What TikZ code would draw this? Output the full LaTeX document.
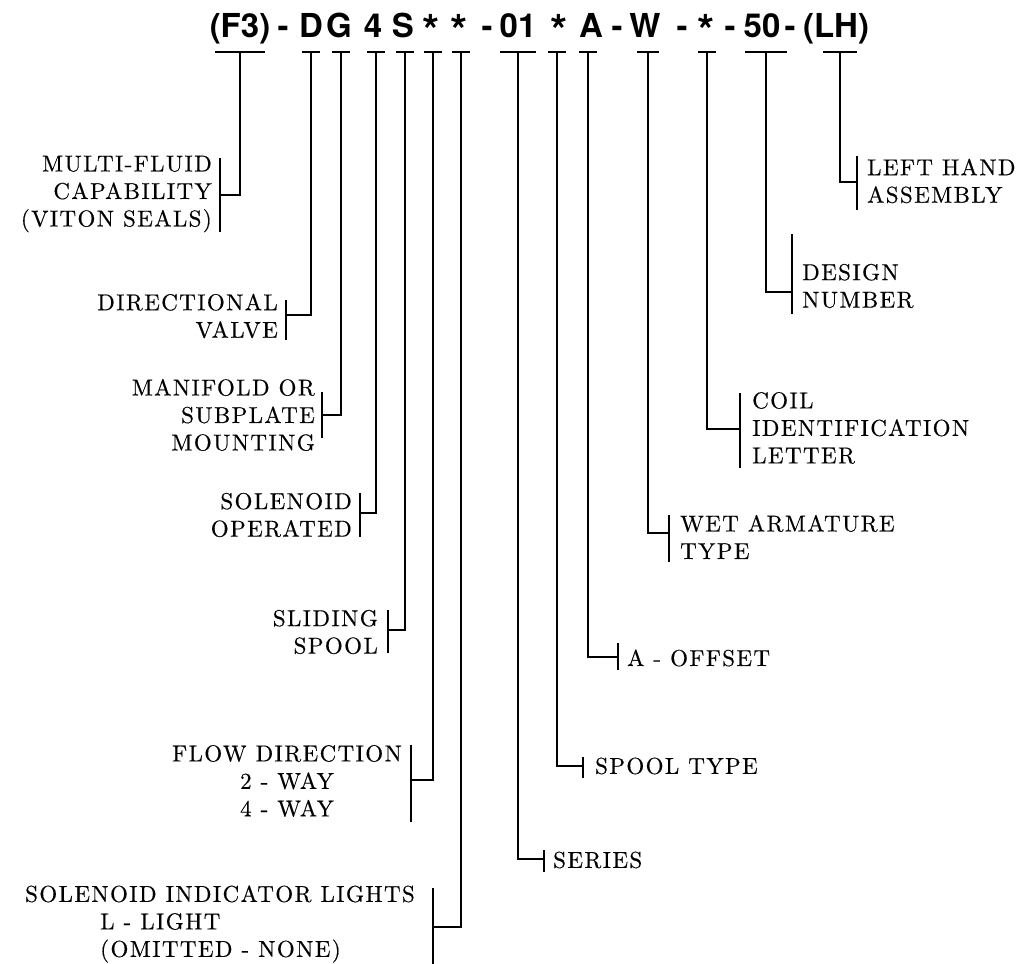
\documentclass[tikz,border=0pt]{standalone}
\usepackage{fontspec}
\newfontfamily\titlefont{TeX Gyre Heros}
\newfontfamily\labfont{lmroman10-regular.otf}[LetterSpace=6,FakeBold=0.4]
% #1 name, #2 stem x, #3 half width of T bar, #4 horizontal y, #5 bracket x, #6 bracket top, #7 bracket bottom
\newcommand\brk[7]{%
  \coordinate (tl#1) at ({#2-#3},52);
  \coordinate (tr#1) at ({#2+#3},52);
  \coordinate (s#1) at (#2,52);
  \coordinate (h#1) at (#5,#4);
  \coordinate (bt#1) at (#5,#6);
  \coordinate (bb#1) at (#5,#7);
  \draw[ln] (tl#1) -- (tr#1);
  \draw[ln] (s#1) |- (h#1);
  \draw[ln] (bt#1) -- (bb#1);
}
\begin{document}
\begin{tikzpicture}[x=1pt,y=-1pt,
  ttl/.style={font=\titlefont\bfseries\fontsize{33}{33}\selectfont, inner sep=0pt, anchor=base},
  star/.style={font=\titlefont\bfseries\fontsize{44}{44}\selectfont, inner sep=0pt, anchor=base},
  lab/.style={font=\labfont\fontsize{23}{27.5}\selectfont, inner sep=0pt},
  ln/.style={line width=1.3pt, line cap=butt, line join=miter}]
\useasboundingbox (0,0) rectangle (1023,964);
% title characters
\node[ttl] (cF3) at (240,37) {(F3)};
\node[ttl] (d1) at (283,37) {-};
\node[ttl] (cD) at (311,37) {D};
\node[ttl] (cG) at (339,37) {G};
\node[ttl] (c4) at (373,37) {4};
\node[ttl] (cS) at (403,37) {S};
\node[star] (ca) at (431,46) {*};
\node[star] (cb) at (459,46) {*};
\node[ttl] (d2) at (487,37) {-};
\node[ttl] (c01) at (518,37) {01};
\node[star] (cc) at (559,46) {*};
\node[ttl] (cA) at (591,37) {A};
\node[ttl] (d3) at (617,37) {-};
\node[ttl] (cW) at (645,37) {W};
\node[ttl] (d4) at (682,37) {-};
\node[star] (cd) at (706,46) {*};
\node[ttl] (d5) at (730,37) {-};
\node[ttl] (c50) at (762,37) {50};
\node[ttl] (d6) at (790,37) {-};
\node[ttl] (cLH) at (836,37) {(LH)};
% connectors
\brk{F3}{240}{25}{195}{220}{158}{232}
\brk{D}{311}{9}{315}{286}{300}{340}
\brk{G}{341}{9}{415}{322}{392}{438}
\brk{4}{376}{9}{513}{360}{493}{537}
\brk{S}{405}{9}{630}{388}{610}{653}
\brk{a}{433}{9}{780}{411}{745}{822}
\brk{b}{461}{9}{927}{433}{888}{964}
\brk{01}{518}{18}{859}{544}{850}{872}
\brk{c}{557}{9}{766}{583}{757}{778}
\brk{A}{588}{9}{657}{618}{643}{670}
\brk{W}{648}{11}{533}{669}{515}{562}
\brk{d}{707}{9}{429}{740}{393}{468}
\brk{50}{766}{21}{292}{792}{234}{314}
\brk{LH}{840}{17}{182}{857}{156}{210}
% left labels
\node[lab, align=right, anchor=east] (lF3) at (212,194) {MULTI-FLUID\\CAPABILITY\\(VITON SEALS)};
\node[lab, align=right, anchor=east] (lD) at (278,316) {DIRECTIONAL\\VALVE};
\node[lab, align=right, anchor=east] (lG) at (315,415) {MANIFOLD OR\\SUBPLATE\\MOUNTING};
\node[lab, align=right, anchor=east] (l4) at (352,515) {SOLENOID\\OPERATED};
\node[lab, align=right, anchor=east] (lS) at (378,632) {SLIDING\\SPOOL};
\node[lab, align=center, anchor=east] (la) at (402,781) {FLOW DIRECTION\\2 - WAY\\4 - WAY};
\node[lab, align=left, anchor=west] (lb) at (25,924) {SOLENOID INDICATOR LIGHTS\\\hspace*{75pt}L - LIGHT\\\hspace*{75pt}(OMITTED - NONE)};
% right labels
\node[lab, align=left, anchor=west] (lLH) at (867,181) {LEFT HAND\\ASSEMBLY};
\node[lab, align=left, anchor=west] (l50) at (802,286) {DESIGN\\NUMBER};
\node[lab, align=left, anchor=west] (ld) at (752,428) {COIL\\IDENTIFICATION\\LETTER};
\node[lab, align=left, anchor=west] (lW) at (680,537) {WET ARMATURE\\TYPE};
\node[lab, align=left, anchor=west] (lA) at (627,658) {A - OFFSET};
\node[lab, align=left, anchor=west] (lc) at (595,766) {SPOOL TYPE};
\node[lab, align=left, anchor=west] (l01) at (553,860) {SERIES};
\end{tikzpicture}
\end{document}
